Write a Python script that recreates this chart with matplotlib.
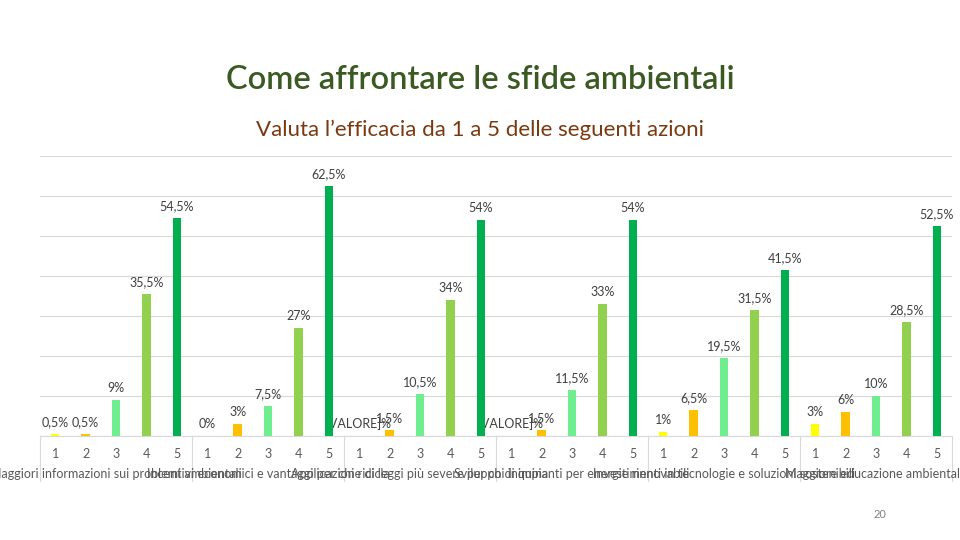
import numpy as np
import matplotlib.pyplot as plt

plt.rcParams['font.family'] = ['Lato', 'DejaVu Sans']

# data
ratings = ['1', '2', '3', '4', '5']
azioni = ['Maggiori informazioni sui problemi ambientali',
          'Incentivi economici e vantaggi per chi ricicla',
          'Applicazione di leggi più severe per chi inquina',
          'Sviluppo di impianti per energie rinnovabili',
          'Investimenti in tecnologie e soluzioni sostenibili',
          'Maggiore educazione ambientale']
voto_1 = [0.5, 0, 0, 0, 1, 3]
voto_2 = [0.5, 3, 1.5, 1.5, 6.5, 6]
voto_3 = [9, 7.5, 10.5, 11.5, 19.5, 10]
voto_4 = [35.5, 27, 34, 33, 31.5, 28.5]
voto_5 = [54.5, 62.5, 54, 54, 41.5, 52.5]
senza_etichetta = [(2, 0), (3, 0)]   # labels shown as [VALORE]% in the original

colori = ['#FFFF00', '#FFC000', '#6FEE8F', '#92D050', '#00B050']

fig = plt.figure(figsize=(9.6, 5.4), dpi=100)
ax = fig.add_axes([40/960, 104/540, 912/960, 280/540])

serie = [voto_1, voto_2, voto_3, voto_4, voto_5]
for r in range(5):
    for g in range(len(azioni)):
        x = g*5 + r
        v = serie[r][g]
        ax.bar(x, v, width=0.27, color=colori[r], zorder=3)
        if (g, r) in senza_etichetta:
            lab = '[VALORE]%'
        else:
            lab = ('%g' % v).replace('.', ',') + '%'
        ax.annotate(lab, (x, v), xytext=(0, 4), textcoords='offset points',
                    ha='center', va='bottom', fontsize=9, color='#404040')

ax.set_xlim(-0.5, 29.5)
ax.set_ylim(0, 70)
ax.set_yticks(np.arange(0, 71, 10))
ax.yaxis.grid(True, color='#D9D9D9', linewidth=0.8, zorder=0)
ax.tick_params(axis='y', left=False, labelleft=False)
for s in ['top', 'right', 'left']:
    ax.spines[s].set_visible(False)
ax.spines['bottom'].set_color('#D9D9D9')

ax.set_xticks(np.arange(30))
ax.set_xticklabels(ratings * 6, fontsize=9, color='#595959')
ax.tick_params(axis='x', length=0, pad=9)

for g in range(7):
    ax.plot([g*5 - 0.5, g*5 - 0.5], [0, -0.16], color='#D9D9D9', lw=0.8,
            transform=ax.get_xaxis_transform(), clip_on=False)
# category names overlap each other in the original slide as well
for g, a in enumerate(azioni):
    ax.text(g*5 + 2, -0.135, a, transform=ax.get_xaxis_transform(),
            ha='center', va='center', fontsize=9, color='#595959')

fig.text(0.5, 1 - 80/540, 'Come affrontare le sfide ambientali', ha='center',
         va='center', fontsize=23.5, fontweight='semibold', color='#3A5A22')
fig.text(0.5, 1 - 130/540, 'Valuta l\u2019efficacia da 1 a 5 delle seguenti azioni',
         ha='center', va='center', fontsize=16, color='#7A3A10')
fig.text(880/960, 1 - 515/540, '20', ha='center', va='center', fontsize=8, color='#808080')

fig.savefig('out.png', dpi=100)
